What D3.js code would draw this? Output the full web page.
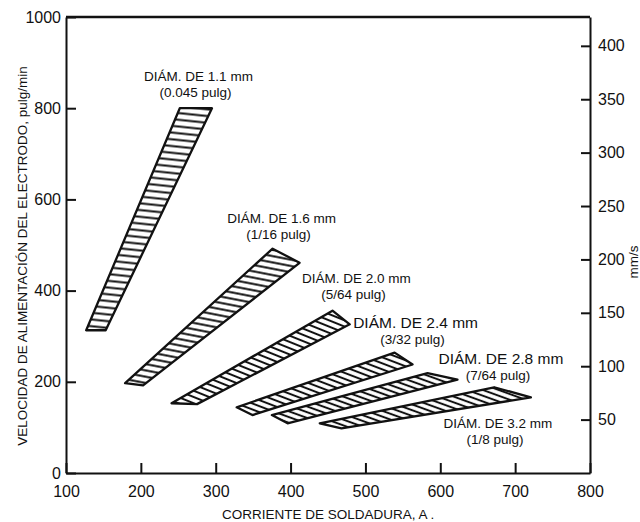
<!DOCTYPE html>
<html>
<head>
<meta charset="utf-8">
<script src="https://cdn.jsdelivr.net/npm/d3@7"></script>
<style>
  body { margin: 0; background: #fff; }
  text { font-family: "Liberation Sans", Arial, Helvetica, sans-serif; fill: #111; }
  .axis path, .axis line { stroke: #111; stroke-width: 2; }
  .axis text { font-size: 16px; }
  .axis-title { font-size: 13.5px; }
  .band-label { font-size: 13.5px; text-anchor: middle; }
</style>
</head>
<body>
<div id="chart"></div>
<script>
// Current (A) on x, wire feed speed (pulg/min) on left y, mm/s on right y
const xTicks = [100, 200, 300, 400, 500, 600, 700, 800];
const yTicks = [0, 200, 400, 600, 800, 1000];
const mmTicks = [50, 100, 150, 200, 250, 300, 350, 400];

const diameters = ['DIÁM. DE 1.1 mm', 'DIÁM. DE 1.6 mm', 'DIÁM. DE 2.0 mm', 'DIÁM. DE 2.4 mm', 'DIÁM. DE 2.8 mm', 'DIÁM. DE 3.2 mm'];
const inches = ['(0.045 pulg)', '(1/16 pulg)', '(5/64 pulg)', '(3/32 pulg)', '(7/64 pulg)', '(1/8 pulg)'];

// band corners [A, pulg/min]: low end (2 pts) then high end (2 pts)
const band11 = [[127, 313], [153, 313], [295, 800], [252, 800]];
const band16 = [[179, 197], [203, 192], [412, 461], [376, 492]];
const band20 = [[241, 153], [275, 151], [479, 326], [456, 356]];
const band24 = [[328, 144], [349, 127], [563, 238], [539, 264]];
const band28 = [[375, 127], [396, 109], [623, 205], [583, 219]];
const band32 = [[439, 109], [468, 98], [721, 166], [672, 188]];

// label anchors [A, pulg/min] (centre of first line)
const labelAt = [[277, 859], [388, 549], [488, 417], [567, 319], [681, 240], [677, 98]];

class FeedChart {

  constructor(_config) {
    this.config = {
      parentElement: _config.parentElement,
      containerWidth: 640,
      containerHeight: 522,
      margin: {top: 17, right: 50, bottom: 49, left: 66}
    };
    this.bands = [band11, band16, band20, band24, band28, band32];
    this.initVis();
  }

  initVis() {
    let vis = this;
    vis.width = vis.config.containerWidth - vis.config.margin.left - vis.config.margin.right;
    vis.height = vis.config.containerHeight - vis.config.margin.top - vis.config.margin.bottom;

    vis.svg = d3.select(vis.config.parentElement).append('svg')
        .attr('width', vis.config.containerWidth)
        .attr('height', vis.config.containerHeight);

    vis.chart = vis.svg.append('g')
        .attr('transform', `translate(${vis.config.margin.left},${vis.config.margin.top})`);

    vis.xScale = d3.scaleLinear().domain([100, 800]).range([0, vis.width]);
    vis.yScale = d3.scaleLinear().domain([0, 1000]).range([vis.height, 0]);
    vis.mmScale = d3.scaleLinear().domain([0, 427]).range([vis.height, 0]);

    // hatch angle / spacing per band
    vis.hatch = [
      {angle: 6, gap: 6.7},
      {angle: 11, gap: 6.2},
      {angle: 22, gap: 5.8},
      {angle: 21, gap: 5.6},
      {angle: 20, gap: 5.4},
      {angle: 20, gap: 5.4}
    ];

    vis.renderVis();
  }

  renderVis() {
    let vis = this;

    const defs = vis.svg.append('defs');
    vis.hatch.forEach((h, i) => {
      const p = defs.append('pattern')
          .attr('id', `hatch-${i}`)
          .attr('patternUnits', 'userSpaceOnUse')
          .attr('width', 10)
          .attr('height', h.gap)
          .attr('patternTransform', `rotate(${h.angle})`);
      p.append('rect').attr('width', 10).attr('height', h.gap).attr('fill', '#fff');
      p.append('line')
          .attr('x1', 0).attr('x2', 10)
          .attr('y1', h.gap / 2).attr('y2', h.gap / 2)
          .attr('stroke', '#111')
          .attr('stroke-width', 2);
    });

    // axes
    const fmt = d3.format('d');
    const xAxis = d3.axisBottom(vis.xScale).tickValues(xTicks).tickFormat(fmt)
        .tickSizeInner(-10).tickSizeOuter(0).tickPadding(13);
    const yAxis = d3.axisLeft(vis.yScale).tickValues(yTicks).tickFormat(fmt)
        .tickSizeInner(-10).tickSizeOuter(0).tickPadding(5);
    const mmAxis = d3.axisRight(vis.mmScale).tickValues(mmTicks).tickFormat(fmt)
        .tickSizeInner(-9).tickSizeOuter(0).tickPadding(8);

    vis.chart.append('g').attr('class', 'axis')
        .attr('transform', `translate(0,${vis.height})`)
        .call(xAxis);
    vis.chart.append('g').attr('class', 'axis').call(yAxis);
    vis.chart.append('g').attr('class', 'axis')
        .attr('transform', `translate(${vis.width},0)`)
        .call(mmAxis);

    vis.chart.append('line')
        .attr('x1', 0).attr('x2', vis.width)
        .attr('y1', 0).attr('y2', 0)
        .attr('stroke', '#111').attr('stroke-width', 2.5);

    // bands
    vis.chart.selectAll('.band')
        .data(vis.bands)
      .join('polygon')
        .attr('class', 'band')
        .attr('points', d => d.map(p => [vis.xScale(p[0]), vis.yScale(p[1])].join(',')).join(' '))
        .attr('fill', (d, i) => `url(#hatch-${i})`)
        .attr('stroke', '#111')
        .attr('stroke-width', 2.3)
        .attr('stroke-linejoin', 'round');

    // labels
    const lab = vis.chart.selectAll('.band-label')
        .data(labelAt)
      .join('text')
        .attr('class', 'band-label')
        .attr('x', d => vis.xScale(d[0]))
        .attr('y', d => vis.yScale(d[1]));
    lab.append('tspan')
        .style('font-size', (d, i) => (i == 3 || i == 4) ? '15.5px' : null)
        .text((d, i) => diameters[i]);
    lab.append('tspan')
        .attr('x', d => vis.xScale(d[0]) - 3)
        .attr('dy', 16)
        .text((d, i) => inches[i]);

    // axis titles
    vis.svg.append('text')
        .attr('class', 'axis-title')
        .attr('text-anchor', 'middle')
        .attr('transform', `translate(27,256) rotate(-90)`)
        .text('VELOCIDAD DE ALIMENTACIÓN DEL ELECTRODO, pulg/min');

    vis.svg.append('text')
        .attr('class', 'axis-title')
        .attr('text-anchor', 'middle')
        .attr('transform', `translate(638,262) rotate(-90)`)
        .text('mm/s');

    vis.svg.append('text')
        .attr('class', 'axis-title')
        .attr('x', 222)
        .attr('y', 519)
        .text('CORRIENTE DE SOLDADURA, A .');
  }
}

new FeedChart({parentElement: '#chart'});
</script>
</body>
</html>
